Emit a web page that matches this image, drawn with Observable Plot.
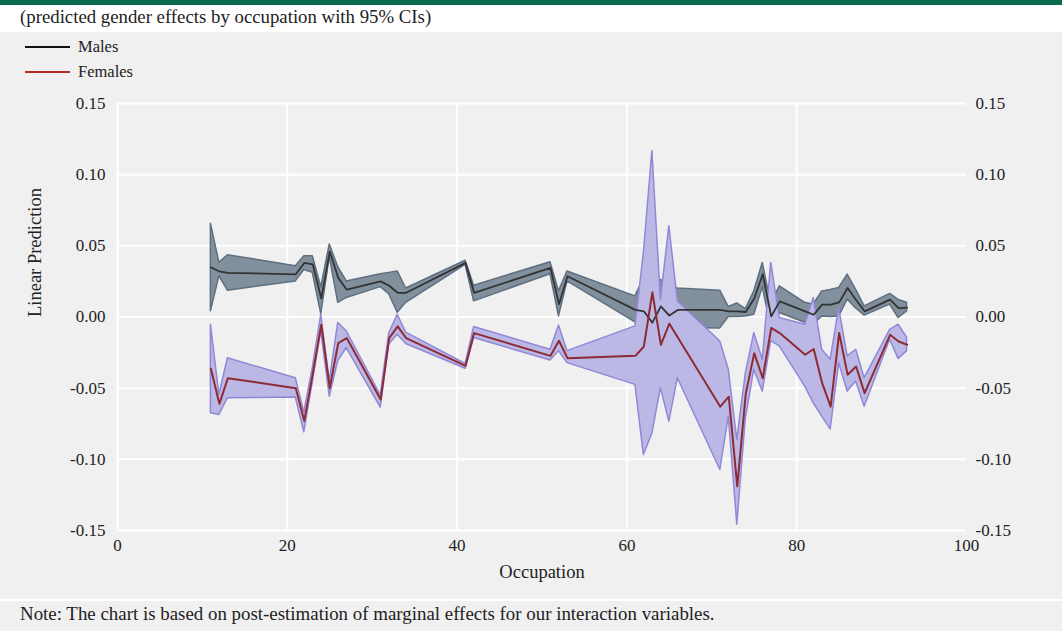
<!DOCTYPE html>
<html>
<head>
<meta charset="utf-8">
<script src="https://cdn.jsdelivr.net/npm/d3@7"></script>
<script src="https://cdn.jsdelivr.net/npm/@observablehq/plot@0.6"></script>
<style>
  html, body { margin: 0; padding: 0; background: #ffffff; }
  body { width: 1062px; height: 631px; position: relative; overflow: hidden; font-family: "Liberation Serif", "DejaVu Serif", serif; color: #222; }
  #topbar { position: absolute; left: 0; top: 0; width: 1062px; height: 5px; background: #0a6a4e; }
  #subtitle { position: absolute; left: 20px; top: 6px; font-size: 18.8px; color: #222; white-space: nowrap; }
  #panel { position: absolute; left: 0; top: 32px; width: 1062px; height: 599px; background: #f0f0f0; }
  #chart { position: absolute; left: 0; top: 0; }
  .leg { position: absolute; left: 25px; font-size: 16.5px; display: flex; align-items: center; white-space: nowrap; }
  .leg span.sw { display: inline-block; width: 45px; height: 2px; margin-right: 8px; }
  #sep { position: absolute; left: 0; top: 567px; width: 1062px; height: 2px; background: #ffffff; }
  #note { position: absolute; left: 20px; top: 571px; font-size: 18.9px; color: #222; white-space: nowrap; }
</style>
</head>
<body>
<div id="topbar"></div>
<div id="subtitle">(predicted gender effects by occupation with 95% CIs)</div>
<div id="panel">
  <div id="chart"></div>
  <div class="leg" style="top:5px"><span class="sw" style="background:#111"></span>Males</div>
  <div class="leg" style="top:30px"><span class="sw" style="background:#b22a2a"></span>Females</div>
  <div id="sep"></div>
  <div id="note">Note: The chart is based on post-estimation of marginal effects for our interaction variables.</div>
</div>
<script>
// Occupation codes
const occupation = [11,12,13,21,22,23,24,25,26,27,31,32,33,34,41,42,51,52,53,61,62,63,64,65,66,71,72,73,74,75,76,77,78,81,82,83,84,85,86,87,88,91,92,93];

// Males: prediction, lower CI, upper CI
const maleEst = [0.035,0.032,0.031,0.030,0.038,0.037,0.013,0.046,0.0275,0.0192,0.025,0.022,0.017,0.017,0.038,0.017,0.0345,0.009,0.0286,0.005,0.004,-0.004,0.0075,0.001,0.005,0.005,0.004,0.004,0.0035,0.013,0.030,0.0004,0.011,0.004,0.0016,0.0087,0.0087,0.0103,0.0204,0.012,0.004,0.0122,0.0063,0.0066];
const maleLo  = [0.004,0.0286,0.0185,0.025,0.033,0.031,0.002,0.042,0.0099,0.0134,0.021,0.016,0.003,0.010,0.0366,0.011,0.030,0.0004,0.025,-0.0038,-0.002,-0.006,0.000,-0.004,-0.0077,-0.008,0.000,0.000,0.0004,0.0016,0.0210,-0.0077,0.0028,-0.004,-0.0054,0.0004,0.000,0.0004,0.0122,0.006,0.001,0.0087,-0.0007,0.004];
const maleHi  = [0.0655,0.038,0.0434,0.0357,0.0427,0.0427,0.021,0.051,0.035,0.025,0.030,0.031,0.032,0.020,0.0395,0.022,0.0385,0.018,0.032,0.0145,0.027,0.026,0.026,0.022,0.020,0.0185,0.0070,0.0095,0.0055,0.018,0.038,0.009,0.0216,0.010,0.0087,0.018,0.019,0.0204,0.0298,0.019,0.0075,0.0162,0.012,0.010];

// Females: prediction, lower CI, upper CI
const femaleEst = [-0.0364,-0.061,-0.043,-0.050,-0.073,-0.040,-0.0054,-0.050,-0.0183,-0.0148,-0.058,-0.0148,-0.0066,-0.0148,-0.0343,-0.0113,-0.0273,-0.0167,-0.0289,-0.0273,-0.0207,0.0173,-0.0195,-0.0047,-0.0144,-0.063,-0.056,-0.119,-0.054,-0.0254,-0.043,-0.0077,-0.0113,-0.0265,-0.0225,-0.0465,-0.063,-0.0113,-0.0406,-0.0348,-0.0535,-0.0125,-0.0172,-0.0195];
const femaleLo  = [-0.0676,-0.0688,-0.057,-0.0566,-0.081,-0.046,-0.010,-0.056,-0.031,-0.0218,-0.0637,-0.0194,-0.0125,-0.019,-0.0364,-0.0148,-0.0306,-0.024,-0.0324,-0.0477,-0.097,-0.082,-0.050,-0.0735,-0.043,-0.1075,-0.070,-0.146,-0.072,-0.037,-0.0524,-0.017,-0.0207,-0.0489,-0.0606,-0.070,-0.079,-0.0324,-0.0524,-0.0453,-0.063,-0.016,-0.0294,-0.024];
const femaleHi  = [-0.0054,-0.0547,-0.029,-0.043,-0.067,-0.036,0.0016,-0.045,-0.0042,-0.010,-0.055,-0.0117,0.0016,-0.011,-0.033,-0.007,-0.023,-0.006,-0.024,-0.0066,0.045,0.1166,0.0122,0.0638,0.011,-0.0172,-0.037,-0.0864,-0.040,-0.0113,-0.030,0.038,-0.0007,-0.0054,0.0134,-0.023,-0.030,0.0063,-0.0277,-0.023,-0.043,-0.009,-0.0054,-0.0146];

const xTicks = [0,20,40,60,80,100];
const yTicks = [-0.15,-0.10,-0.05,0.00,0.05,0.10,0.15];

const male = occupation.map((o,i) => ({occ:o, est:maleEst[i], lo:maleLo[i], hi:maleHi[i]}));
const female = occupation.map((o,i) => ({occ:o, est:femaleEst[i], lo:femaleLo[i], hi:femaleHi[i]}));

const fmt = d => d.toFixed(2);

const chart = Plot.plot({
  width: 1062,
  height: 568,
  marginTop: 71,
  marginBottom: 70,
  marginLeft: 117,
  marginRight: 96,
  style: {background: "transparent", fontFamily: "'Liberation Serif', serif", fontSize: "17px", color: "#222", overflow: "visible"},
  x: {domain: [0,100], label: null},
  y: {domain: [-0.15, 0.15], label: null},
  marks: [
    Plot.gridY(yTicks, {stroke: "#ffffff", strokeOpacity: 1, strokeWidth: 2}),
    Plot.gridX([20,40,60,80], {stroke: "#ffffff", strokeOpacity: 1, strokeWidth: 2}),
    Plot.ruleX([0], {stroke: "#ffffff", strokeWidth: 2}),
    Plot.areaY(male, {x: "occ", y1: "lo", y2: "hi", fill: "#82909e", stroke: "#5d6f80", strokeWidth: 1.5}),
    Plot.areaY(female, {x: "occ", y1: "lo", y2: "hi", fill: "#bcb8e6", stroke: "#8f88d6", strokeWidth: 1.5}),
    Plot.lineY(male, {x: "occ", y: "est", stroke: "#333333", strokeWidth: 1.8}),
    Plot.lineY(female, {x: "occ", y: "est", stroke: "#8e2a33", strokeWidth: 2}),
    Plot.axisX(xTicks, {tickSize: 0, tickPadding: 8, label: null, fontSize: 17}),
    Plot.axisY(yTicks, {anchor: "left", tickSize: 0, tickPadding: 12, tickFormat: fmt, label: null, fontSize: 17}),
    Plot.axisY(yTicks, {anchor: "right", tickSize: 0, tickPadding: 9, tickFormat: fmt, label: null, fontSize: 17}),
    Plot.text(["Occupation"], {frameAnchor: "bottom", dy: 47, fontSize: 18.5, fill: "#222"}),
    Plot.text(["Linear Prediction"], {frameAnchor: "left", dx: -82, rotate: -90, fontSize: 18.5, fill: "#222"})
  ]
});
document.getElementById("chart").appendChild(chart);
</script>
</body>
</html>
